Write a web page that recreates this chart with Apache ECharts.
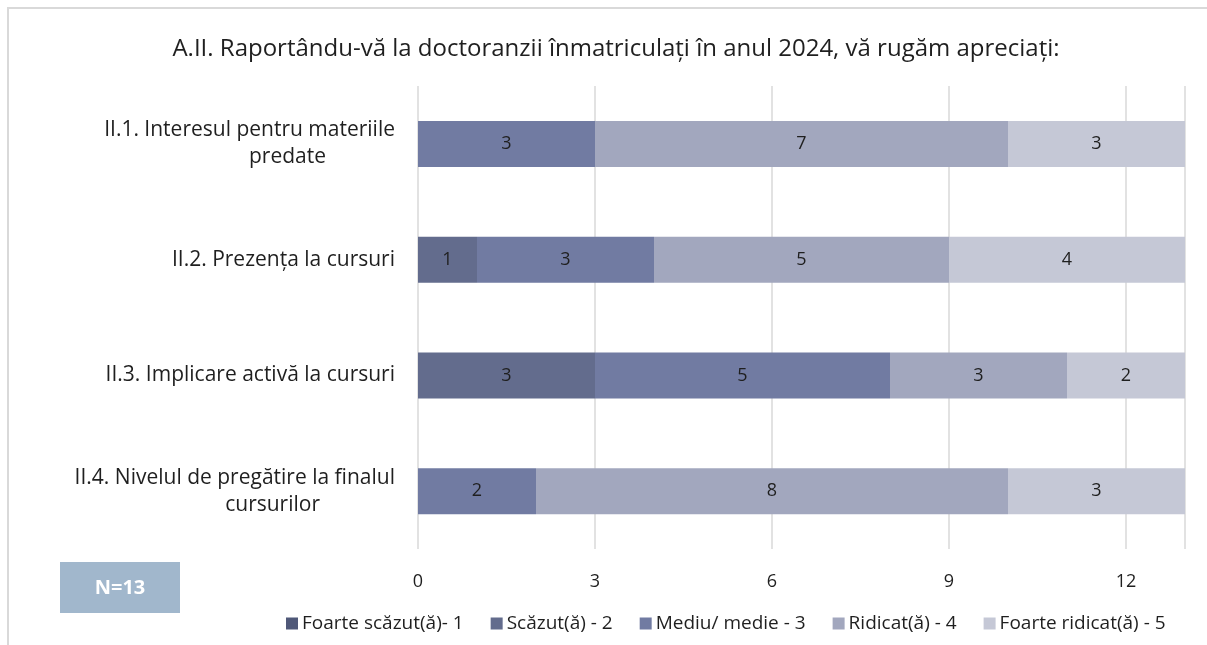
<!DOCTYPE html>
<html>
<head>
<meta charset="utf-8">
<style>
  html, body { margin: 0; padding: 0; background: #ffffff; }
  #chart { width: 1207px; height: 645px; }
</style>
<script src="https://cdn.jsdelivr.net/npm/echarts@6/dist/echarts.min.js"></script>
</head>
<body>
<div id="chart"></div>
<script>
// Survey questions (top to bottom)
const categories = [
  'II.1. Interesul pentru materiile\npredate',
  'II.2. Prezența la cursuri',
  'II.3. Implicare activă la cursuri',
  'II.4. Nivelul de pregătire la finalul\ncursurilor'
];

// Number of answers per rating level, one value per question
const foarteScazut   = [0, 0, 0, 0];
const scazut         = [0, 1, 3, 0];
const mediu          = [3, 3, 5, 2];
const ridicat        = [7, 5, 3, 8];
const foarteRidicat  = [3, 4, 2, 3];

const seriesNames = [
  'Foarte scăzut(ă)- 1',
  'Scăzut(ă) - 2',
  'Mediu/ medie - 3',
  'Ridicat(ă) - 4',
  'Foarte ridicat(ă) - 5'
];
const seriesData = [foarteScazut, scazut, mediu, ridicat, foarteRidicat];
const colors = ['#4f5878', '#636c8d', '#717ba2', '#a2a7be', '#c5c8d6'];

const xTicks = [0, 3, 6, 9, 12];
const sampleLabel = 'N=13';

const FONT = '"Open Sans", sans-serif';
const TEXT = '#1f1f1f';

// right padding for the wrapped second line of each category label
const secondLinePad = [69, 0, 0, 75];

const chart = echarts.init(document.getElementById('chart'));

chart.setOption({
  animation: false,
  color: colors,
  textStyle: { fontFamily: FONT, color: TEXT },
  title: {
    text: 'A.II. Raportându-vă la doctoranzii înmatriculați în anul 2024, vă rugăm apreciați:',
    left: 611,
    textAlign: 'center',
    top: 32,
    textStyle: { fontFamily: FONT, fontSize: 24, fontWeight: 'normal', color: TEXT }
  },
  legend: {
    left: 281,
    top: 609,
    icon: 'rect',
    itemWidth: 12,
    itemHeight: 12,
    itemGap: 27,
    textStyle: { fontFamily: FONT, fontSize: 19, color: TEXT, padding: [0, 0, 0, -1] },
    data: seriesNames
  },
  grid: { left: 418, right: 22, top: 86, bottom: 96, containLabel: false },
  xAxis: {
    type: 'value',
    min: 0,
    max: 13,
    interval: 3,
    axisLine: { show: false },
    axisTick: { show: false },
    splitLine: { lineStyle: { color: '#d9d9d9', width: 1.5 } },
    axisLabel: {
      fontFamily: FONT, fontSize: 18, color: TEXT, margin: 24,
      formatter: v => (xTicks.indexOf(v) >= 0 ? String(v) : '')
    }
  },
  yAxis: {
    type: 'category',
    inverse: true,
    data: categories,
    axisLine: { show: false },
    axisTick: { show: false },
    axisLabel: {
      fontFamily: FONT, fontSize: 21, color: TEXT, margin: 23, lineHeight: 27,
      formatter: (v, i) => {
        const lines = v.split('\n');
        if (lines.length === 1) return '{a|' + lines[0] + '}';
        return '{a|' + lines[0] + '}\n{b' + i + '|' + lines[1] + '}';
      },
      rich: Object.assign(
        { a: { fontFamily: FONT, fontSize: 21, color: TEXT, lineHeight: 27 } },
        ...secondLinePad.map((p, i) => ({
          ['b' + i]: { fontFamily: FONT, fontSize: 21, color: TEXT, lineHeight: 27, padding: [0, p, 0, 0] }
        }))
      )
    }
  },
  series: seriesNames.map((name, k) => ({
    name,
    type: 'bar',
    stack: 'total',
    barWidth: 46,
    data: seriesData[k],
    itemStyle: { color: colors[k] },
    label: {
      show: true,
      position: 'inside',
      fontFamily: FONT,
      fontSize: 18,
      color: TEXT,
      formatter: p => (p.value ? String(p.value) : '')
    }
  })),
  graphic: [
    {
      type: 'rect',
      shape: { x: 8, y: 8, width: 1220, height: 660 },
      style: { fill: 'none', stroke: '#d9d9d9', lineWidth: 2 },
      silent: true
    },
    {
      type: 'rect',
      shape: { x: 60, y: 562, width: 120, height: 51 },
      style: { fill: '#a1b7cc' }
    },
    {
      type: 'text',
      x: 120,
      y: 588,
      style: {
        text: sampleLabel,
        fill: '#ffffff',
        font: 'bold 20px ' + FONT,
        textAlign: 'center',
        textVerticalAlign: 'middle'
      }
    }
  ]
});
</script>
</body>
</html>
